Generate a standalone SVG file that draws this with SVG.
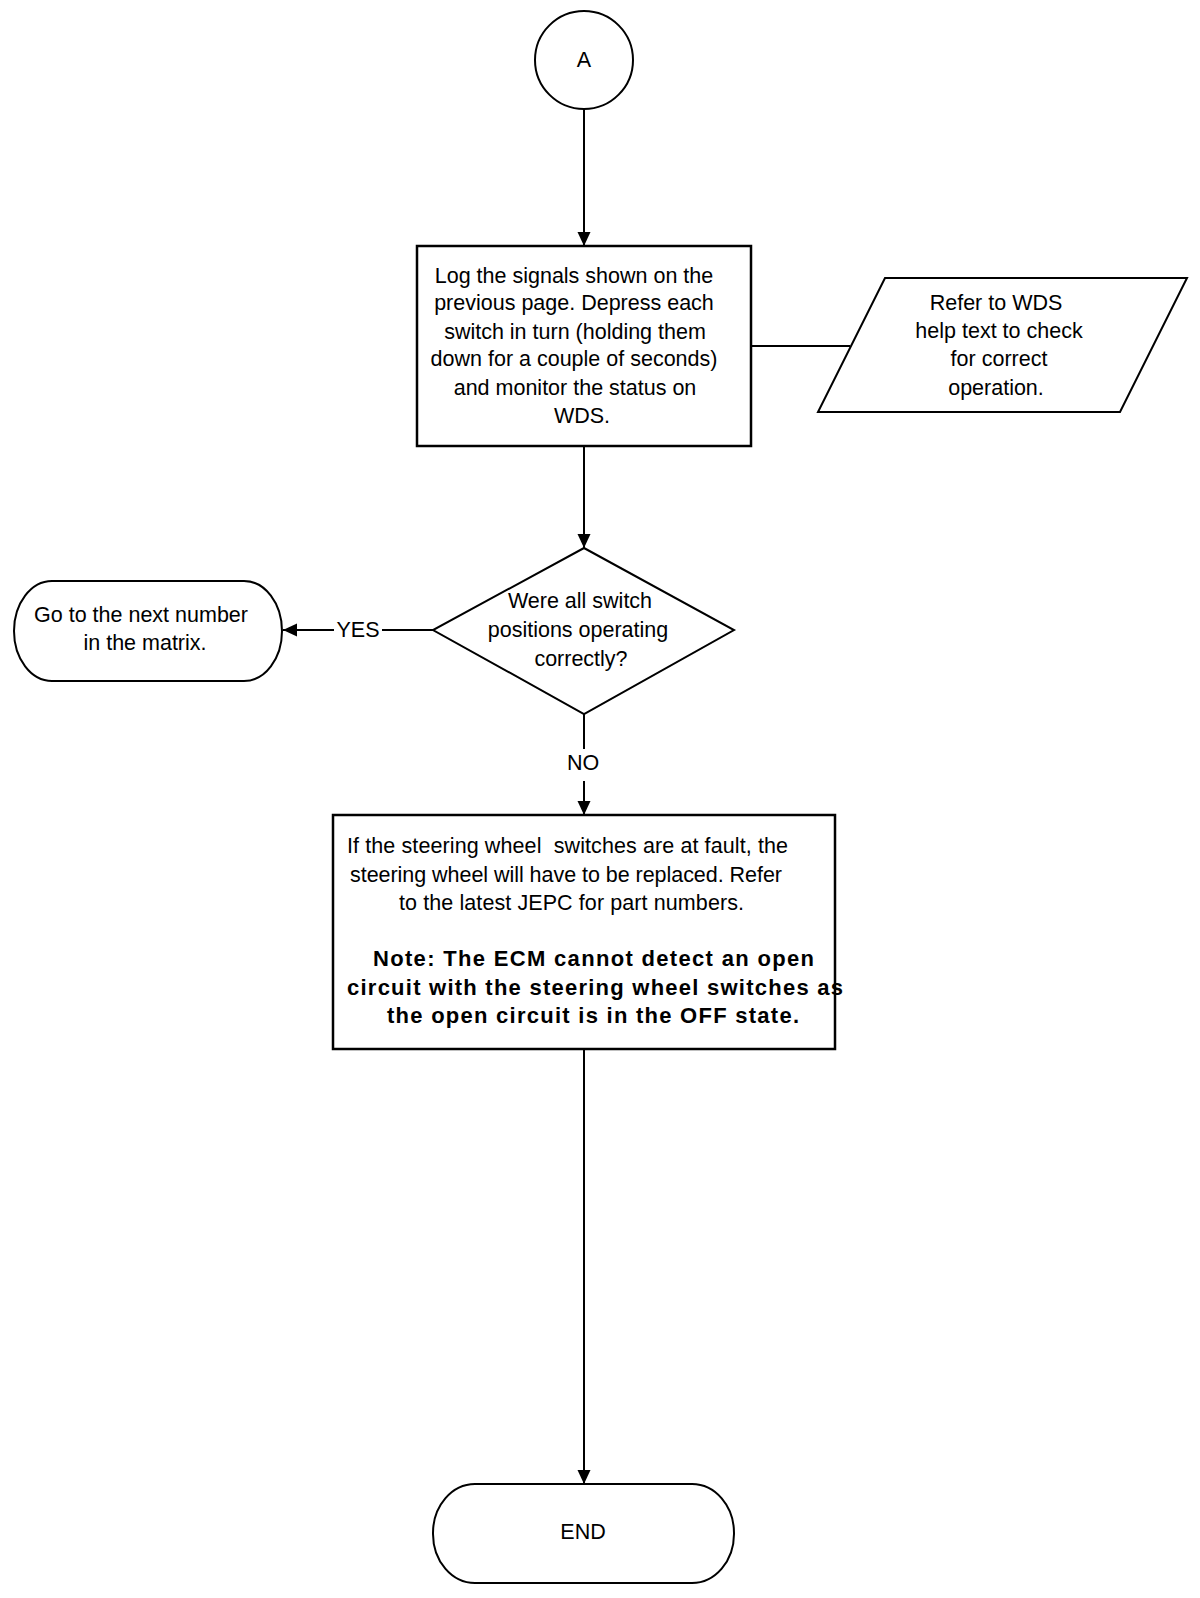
<svg xmlns="http://www.w3.org/2000/svg" width="1200" height="1598" viewBox="0 0 1200 1598">
<defs>
<marker id="arr" markerWidth="16" markerHeight="16" refX="14" refY="8" orient="auto" markerUnits="userSpaceOnUse">
<path d="M0,1.5 L14,8 L0,14.5 Z" fill="#000"/>
</marker>
<style>
.s{fill:#fff;stroke:#000;stroke-width:2}
.b{fill:#fff;stroke:#000;stroke-width:2.5}
.c{fill:none;stroke:#000;stroke-width:2}
text{font-family:"Liberation Sans",Arial,sans-serif;font-size:21.5px;fill:#000}
.m{text-anchor:middle}
.bold{font-weight:bold;font-size:22px}
</style>
</defs>
<rect width="1200" height="1598" fill="#fff"/>
<g id="connectors">
<line class="c" x1="584" y1="110" x2="584" y2="246" marker-end="url(#arr)"/>
<line class="c" x1="751" y1="346" x2="850" y2="346"/>
<line class="c" x1="584" y1="446" x2="584" y2="548" marker-end="url(#arr)"/>
<line class="c" x1="433" y1="630" x2="382" y2="630"/>
<line class="c" x1="334" y1="630" x2="283" y2="630" marker-end="url(#arr)"/>
<text class="m" x="358" y="637">YES</text>
<line class="c" x1="584" y1="714" x2="584" y2="749"/>
<line class="c" x1="584" y1="781" x2="584" y2="815" marker-end="url(#arr)"/>
<text class="m" x="583" y="770">NO</text>
<line class="c" x1="584" y1="1049" x2="584" y2="1484" marker-end="url(#arr)"/>
</g>
<g id="nodeA">
<circle class="s" cx="584" cy="60" r="49"/>
<text class="m" x="584" y="67">A</text>
</g>
<g id="nodeLog">
<rect class="b" x="417" y="246" width="334" height="200"/>
<text class="m" x="574" y="283">Log the signals shown on the</text>
<text class="m" x="574" y="310">previous page. Depress each</text>
<text class="m" x="575" y="339">switch in turn (holding them</text>
<text class="m" x="574" y="366">down for a couple of seconds)</text>
<text class="m" x="575" y="395">and monitor the status on</text>
<text class="m" x="582" y="423">WDS.</text>
</g>
<g id="nodeRefer">
<polygon class="s" points="885,278 1187,278 1120,412 818,412"/>
<text class="m" x="996" y="310">Refer to WDS</text>
<text class="m" x="999" y="338">help text to check</text>
<text class="m" x="999" y="366">for correct</text>
<text class="m" x="996" y="395">operation.</text>
</g>
<g id="nodeDecision">
<polygon class="s" points="584,548 734,630 584,714 433,630"/>
<text class="m" x="580" y="608">Were all switch</text>
<text class="m" x="578" y="637">positions operating</text>
<text class="m" x="581" y="666">correctly?</text>
</g>
<g id="nodeNext">
<rect class="s" x="14" y="581" width="268" height="100" rx="38" ry="50"/>
<text class="m" x="141" y="622">Go to the next number</text>
<text class="m" x="145" y="650">in the matrix.</text>
</g>
<g id="nodeFault">
<rect class="b" x="333" y="815" width="502" height="234"/>
<text x="347" y="853" xml:space="preserve" textLength="441">If the steering wheel  switches are at fault, the</text>
<text x="350" y="882" textLength="432">steering wheel will have to be replaced. Refer</text>
<text x="399" y="910" textLength="345">to the latest JEPC for part numbers.</text>
<text class="bold" x="373" y="966" textLength="441">Note: The ECM cannot detect an open</text>
<text class="bold" x="347" y="995" textLength="496">circuit with the steering wheel switches as</text>
<text class="bold" x="387" y="1023" textLength="412">the open circuit is in the OFF state.</text>
</g>
<g id="nodeEnd">
<rect class="s" x="433" y="1484" width="301" height="99" rx="42" ry="49"/>
<text class="m" x="583" y="1539">END</text>
</g>
</svg>
